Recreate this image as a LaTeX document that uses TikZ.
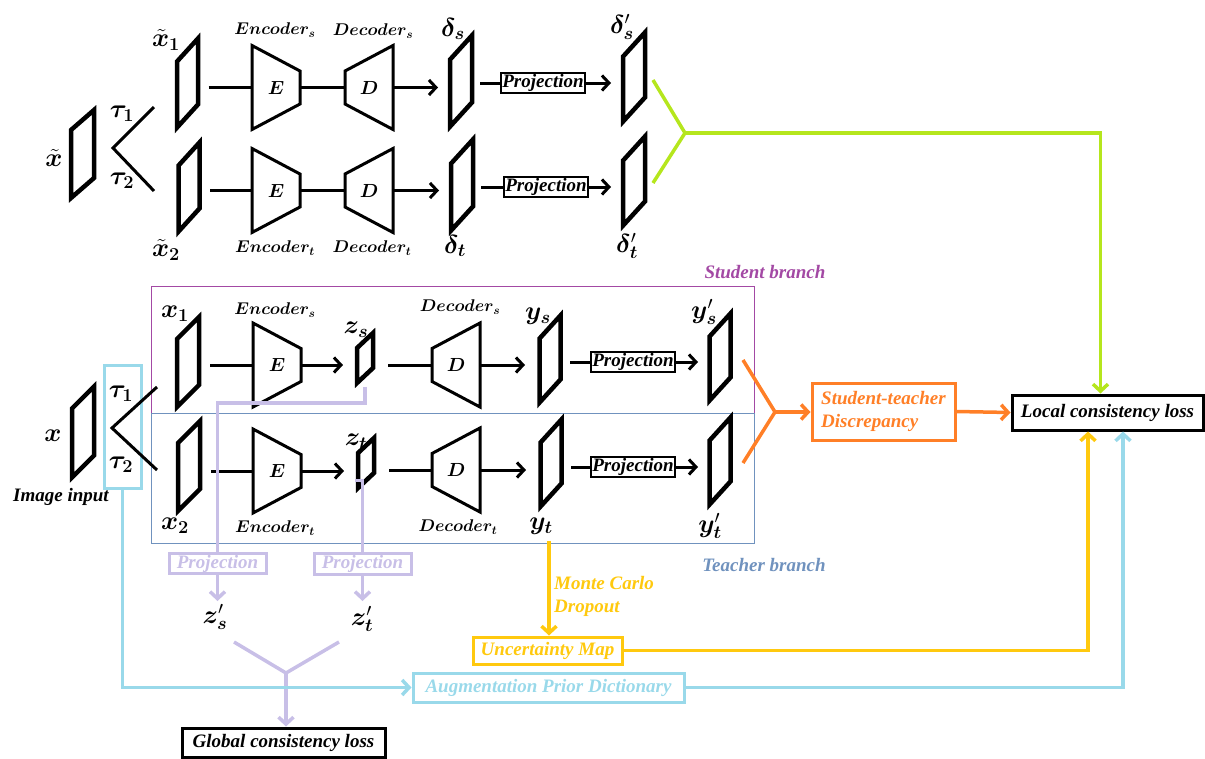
\RequirePackage{fix-cm}
\documentclass[tikz,border=0pt]{standalone}
\usepackage{fontspec}
\setmainfont{Liberation Serif}
\usepackage{bm}
\usetikzlibrary{arrows.meta,calc}
\definecolor{cLime}{HTML}{B5E61D}
\definecolor{cOrange}{HTML}{FF7F27}
\definecolor{cGold}{HTML}{FFC90E}
\definecolor{cTurq}{HTML}{99D9EA}
\definecolor{cLav}{HTML}{C8BFE7}
\definecolor{cPurp}{HTML}{A349A4}
\definecolor{cBlue}{HTML}{7092BE}
\newcommand\lab{\fontsize{19}{23}\selectfont\bfseries\itshape}
\newcommand\var{\fontsize{26}{30}\selectfont}
\newcommand\enc{\fontsize{17}{20}\selectfont}
\newcommand\trl{\fontsize{19}{22}\selectfont}
\newcommand\pgram[6]{\node[pg,minimum width=#4,minimum height=#5,yslant=#6] (#1) at (#2,#3) {};}
\newcommand\trap[5]{%
  \node[trapnode] (#1) at (#2,#3) {\trl$\bm{#4}$};
  \draw[trapline] ($(#1.center)+({-24*(#5)},-42)$) -- ($(#1.center)+({24*(#5)},-16.5)$)
     -- ($(#1.center)+({24*(#5)},16.5)$) -- ($(#1.center)+({-24*(#5)},42)$) -- cycle;}
\begin{document}
\begin{tikzpicture}[x=1pt,y=-1pt,
  pg/.style={draw,line width=4.5pt,inner sep=0pt,outer sep=0pt},
  trapnode/.style={inner sep=0pt,minimum width=48pt,minimum height=20pt},
  trapline/.style={line width=3pt,line join=miter},
  conn/.style={line width=3pt},
  arr/.style={-{Straight Barb[length=7pt,width=15pt]}},
  projbox/.style={draw,line width=2.5pt,inner sep=1.5pt,font=\lab},
  txt/.style={inner sep=0pt,font=\lab},
  vlab/.style={inner sep=0pt,font=\var},
  elab/.style={inner sep=0pt},
  colline/.style={line width=3.5pt},
]
\useasboundingbox (0,0) rectangle (1205,758);

% ---------------- branch frames ----------------
\draw[cPurp,line width=1pt] (151,286) rectangle (754,413);
\draw[cBlue,line width=1pt] (151,413) rectangle (754,543);
\node[txt,text=cPurp] (sbl) at (765,272) {Student branch};
\node[txt,text=cBlue] (tbl) at (764,565) {Teacher branch};

% ---------------- top part ----------------
\pgram{xt}{82.5}{154}{23}{68}{0.87}
\pgram{xt1}{187.5}{83}{21}{66}{1.1}
\pgram{xt2}{189}{187}{21}{66}{1.1}
\pgram{ds}{461}{81}{22}{67}{1.1}
\pgram{dt}{462}{185}{22}{67}{1.1}
\pgram{dsp}{634}{77}{22}{65}{1.1}
\pgram{dtp}{634}{181}{22}{65}{1.1}

\node[vlab] (xtl) at (54,158) {$\bm{\tilde x}$};
\node[vlab] (xt1l) at (166,40) {$\bm{\tilde x}_{\bm 1}$};
\node[vlab] (xt2l) at (166,250) {$\bm{\tilde x}_{\bm 2}$};
\node[vlab] (ta1l) at (122,114) {$\bm{\tau}_{\bm 1}$};
\node[vlab] (ta2l) at (122,181) {$\bm{\tau}_{\bm 2}$};
\node[vlab] (dsl) at (453,29) {$\bm{\delta}_{\bm s}$};
\node[vlab] (dtl) at (455,246) {$\bm{\delta}_{\bm t}$};
\node[vlab] (dspl) at (622,27) {$\bm{\delta}'_{\bm s}$};
\node[vlab] (dtpl) at (627,246) {$\bm{\delta}'_{\bm t}$};

\coordinate (ta) at (113,148);
\coordinate (ta1) at (154,107);
\coordinate (ta2) at (154,191);
\draw[conn] (ta1) -- (ta) -- (ta2);

\trap{E1}{276}{87.5}{E}{1}
\trap{D1}{369}{87.5}{D}{-1}
\trap{E2}{276}{190.5}{E}{1}
\trap{D2}{369}{190.5}{D}{-1}
\node[elab] (e1l) at (275,30) {\enc$\bm{Encoder}_{\bm s}$};
\node[elab] (d1l) at (373,31) {\enc$\bm{Decoder}_{\bm s}$};
\node[elab] (e2l) at (275,248) {\enc$\bm{Encoder}_{\bm t}$};
\node[elab] (d2l) at (372,248) {\enc$\bm{Decoder}_{\bm t}$};

\node[projbox] (P1) at (543,83) {Projection};
\node[projbox] (P2) at (546,187) {Projection};

\draw[conn,shorten <=21pt] (xt1.center |- E1.west) -- (E1.west);
\draw[conn] (E1.east) -- (D1.west);
\draw[conn,arr,shorten >=23pt] (D1.east) -- (ds.center |- D1.east);
\draw[conn,shorten <=19pt] (ds.center |- P1.west) -- (P1.west);
\draw[conn,arr,shorten >=23pt] (P1.east) -- (dsp.center |- P1.east);

\draw[conn,shorten <=21pt] (xt2.center |- E2.west) -- (E2.west);
\draw[conn] (E2.east) -- (D2.west);
\draw[conn,arr,shorten >=23pt] (D2.east) -- (dt.center |- D2.east);
\draw[conn,shorten <=19pt] (dt.center |- P2.west) -- (P2.west);
\draw[conn,arr,shorten >=23pt] (P2.east) -- (dtp.center |- P2.east);

% green
\coordinate (g1) at (653,80);
\coordinate (g2) at (653,183);
\coordinate (gv) at (685,133);

% ---------------- bottom part ----------------
\node[draw=cTurq,line width=3pt,minimum width=37pt,minimum height=123pt,inner sep=0pt] (taubox) at (122.5,426.5) {};
\pgram{x}{83}{432}{22}{69}{1.0}
\pgram{x1}{188}{362}{22}{68}{1.0}
\pgram{x2}{189}{466}{22}{68}{1.0}
\pgram{zs}{365}{358}{16}{35}{0.94}
\pgram{zt}{366}{463}{16}{35}{0.94}
\pgram{ys}{550}{359}{21}{64}{1.1}
\pgram{yt}{551}{463}{21}{64}{1.1}
\pgram{ysp}{720}{357}{21}{64}{1.1}
\pgram{ytp}{720}{461}{21}{64}{1.1}

\node[vlab] (xl) at (53,436) {$\bm{x}$};
\node[txt] (iin) at (61,497) {Image input};
\node[vlab] (tb1l) at (121,394) {$\bm{\tau}_{\bm 1}$};
\node[vlab] (tb2l) at (121,465) {$\bm{\tau}_{\bm 2}$};
\node[vlab] (x1l) at (175,314) {$\bm{x}_{\bm 1}$};
\node[vlab] (x2l) at (175,526) {$\bm{x}_{\bm 2}$};
\node[vlab] (zsl) at (356,330) {$\bm{z}_{\bm s}$};
\node[vlab] (ztl) at (356,442) {$\bm{z}_{\bm t}$};
\node[vlab] (ysl) at (538,316) {$\bm{y}_{\bm s}$};
\node[vlab] (ytl) at (541,526) {$\bm{y}_{\bm t}$};
\node[vlab] (yspl) at (704,312) {$\bm{y}'_{\bm s}$};
\node[vlab] (ytpl) at (710,526) {$\bm{y}'_{\bm t}$};

\coordinate (tb) at (112,428);
\coordinate (tb1) at (157,387);
\coordinate (tb2) at (157,470);
\draw[conn] (tb1) -- (tb) -- (tb2);

\trap{E3}{277}{365}{E}{1}
\trap{D3}{456}{365}{D}{-1}
\trap{E4}{277}{471}{E}{1}
\trap{D4}{456}{470}{D}{-1}
\node[elab] (e3l) at (275,310) {\enc$\bm{Encoder}_{\bm s}$};
\node[elab] (d3l) at (460,307) {\enc$\bm{Decoder}_{\bm s}$};
\node[elab] (e4l) at (275,528) {\enc$\bm{Encoder}_{\bm t}$};
\node[elab] (d4l) at (458,527) {\enc$\bm{Decoder}_{\bm t}$};

\node[projbox] (P3) at (633,362) {Projection};
\node[projbox] (P4) at (633,467) {Projection};

\draw[conn,shorten <=22pt] (x1.center |- E3.west) -- (E3.west);
\draw[conn,arr,shorten >=22pt] (E3.east) -- (zs.center |- E3.east);
\draw[conn,shorten <=23pt] (zs.center |- D3.west) -- (D3.west);
\draw[conn,arr,shorten >=25pt] (D3.east) -- (ys.center |- D3.east);
\draw[conn,shorten <=20pt] (ys.center |- P3.west) -- (P3.west);
\draw[conn,arr,shorten >=22pt] (P3.east) -- (ysp.center |- P3.east);

\draw[conn,shorten <=22pt] (x2.center |- E4.west) -- (E4.west);
\draw[conn,arr,shorten >=22pt] (E4.east) -- (zt.center |- E4.east);
\draw[conn,shorten <=23pt] (zt.center |- D4.west) -- (D4.west);
\draw[conn,arr,shorten >=25pt] (D4.east) -- (yt.center |- D4.east);
\draw[conn,shorten <=20pt] (yt.center |- P4.west) -- (P4.west);
\draw[conn,arr,shorten >=22pt] (P4.east) -- (ytp.center |- P4.east);

% ---------------- right side boxes ----------------
\node[draw=cOrange,line width=3pt,inner sep=3pt,font=\lab,text=cOrange,align=left,minimum width=143pt,minimum height=57pt] (ST) at (883.5,411.5) {Student-teacher\\Discrepancy};
\node[draw,line width=3pt,inner sep=3pt,font=\lab,minimum width=191pt,minimum height=35pt] (L) at (1107.5,412.5) {Local consistency loss};

% green connector
\draw[cLime,colline,line join=miter] (g1) -- (gv) -- (g2);
\draw[cLime,colline,arr] (gv) -| ([xshift=-7pt]L.north);

% orange connector
\coordinate (o1) at (743,360);
\coordinate (o2) at (743,463);
\coordinate (ov) at (775,412);
\draw[cOrange,colline] (o1) -- (ov) -- (o2);
\draw[cOrange,colline,arr] (ov) -- (ST.west |- ov);
\draw[cOrange,colline,arr] (ST.east) -- (L.west);

% lavender
\node[draw=cLav,line width=3pt,inner sep=1.5pt,font=\lab,text=cLav,minimum width=97pt] (PA) at (217.5,563.5) {Projection};
\node[draw=cLav,line width=3pt,inner sep=1.5pt,font=\lab,text=cLav,minimum width=97pt] (PB) at (362.5,564) {Projection};
\node[vlab] (zspl) at (215,617) {$\bm{z}'_{\bm s}$};
\node[vlab] (ztpl) at (362,619) {$\bm{z}'_{\bm t}$};
\draw[cLav,colline,shorten <=11pt] (zs.south) -- (zs.south |- 0,403) -| (PA.north);
\draw[cLav,colline,shorten <=11pt] (zt.south) -- (zt.south -| PB.north) -- (PB.north);
\draw[cLav,colline,arr] (PA.south) -- (PA.south |- 0,601);
\draw[cLav,colline,arr] (PB.south) -- (PB.south |- 0,601);
\node[draw,line width=3pt,inner sep=2pt,font=\lab,minimum width=203pt,minimum height=29pt] (GL) at (283.5,742.5) {Global consistency loss};
\coordinate (l1) at (234,642);
\coordinate (l2) at (339,642);
\coordinate (lv) at (286,673);
\draw[cLav,colline] (l1) -- (lv) -- (l2);
\draw[cLav,colline,arr] (lv) -- (GL.north -| lv);

% yellow
\node[draw=cGold,line width=3pt,inner sep=1.5pt,font=\lab,text=cGold,minimum width=149pt,minimum height=27pt] (UM) at (547.5,650.5) {Uncertainty Map};
\draw[cGold,colline,arr] (ytl.south) ++(8,6) -- (UM.north -| 549,0);
\node[txt,text=cGold,align=left,anchor=west] (mcd) at (554,596) {Monte Carlo\\Dropout};
\draw[cGold,colline,arr] (UM.east) -| ([xshift=-19.5pt]L.south);

% cyan
\node[draw=cTurq,line width=3pt,inner sep=1.5pt,font=\lab,text=cTurq,minimum width=271pt,minimum height=29pt] (AP) at (548.5,687.5) {Augmentation Prior Dictionary};
\draw[cTurq,colline,arr] (taubox.south) |- (AP.west);
\draw[cTurq,colline,arr] (AP.east) -| ([xshift=15.5pt]L.south);

\end{tikzpicture}
\end{document}
